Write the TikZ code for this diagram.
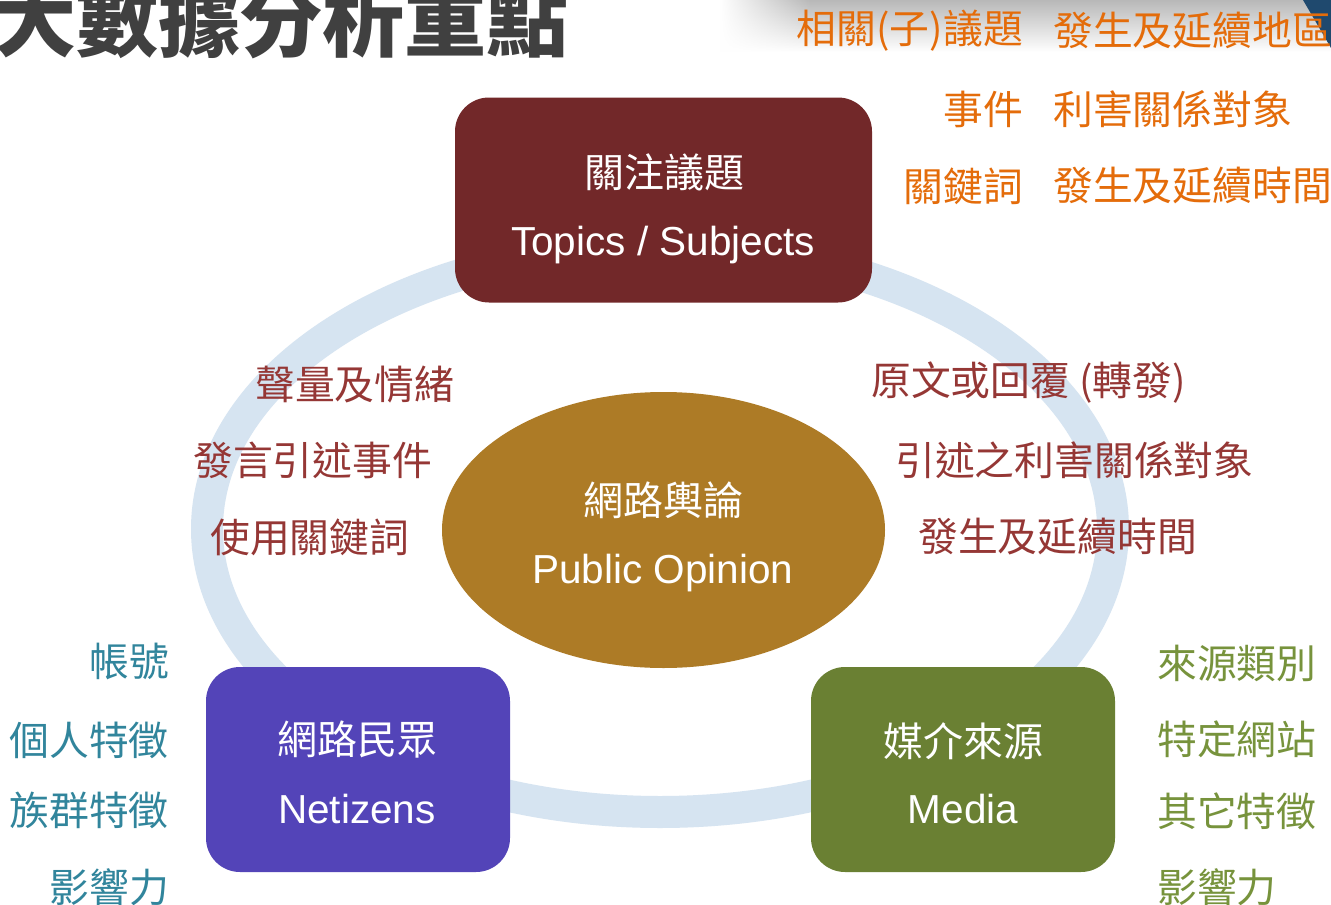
\documentclass[tikz,border=0pt]{standalone}
\usepackage{fontspec}
\setmainfont{Liberation Sans}
\newfontfamily\cjk{Noto Sans CJK TC}
\usetikzlibrary{shapes.geometric,fadings}
\definecolor{titlegray}{RGB}{64,64,64}
\definecolor{bandgray}{RGB}{184,184,184}
\definecolor{cornerblue}{RGB}{31,73,110}
\definecolor{ringblue}{RGB}{214,228,241}
\definecolor{topicred}{RGB}{114,40,41}
\definecolor{opinionochre}{RGB}{173,123,38}
\definecolor{netpurple}{RGB}{83,68,184}
\definecolor{mediagreen}{RGB}{106,128,51}
\definecolor{laborange}{RGB}{228,108,10}
\definecolor{labred}{RGB}{149,55,53}
\definecolor{labteal}{RGB}{49,133,156}
\definecolor{labgreen}{RGB}{119,147,60}
\tikzfading[name=fadeleft, left color=transparent!100, right color=transparent!0]
\begin{document}
\begin{tikzpicture}[x=1pt,y=-1pt,
  boxbase/.style={rounded corners=34pt, inner sep=0pt, minimum height=205pt},
  topicbox/.style={boxbase, fill=topicred, minimum width=417pt},
  netbox/.style={boxbase, fill=netpurple, minimum width=304pt},
  mediabox/.style={boxbase, fill=mediagreen, minimum width=304pt},
  opinionell/.style={ellipse, fill=opinionochre, inner sep=0pt, minimum width=443pt, minimum height=276pt},
  ring/.style={draw=ringblue, line width=32pt},
  zhwhite/.style={font=\cjk\fontsize{40}{41}\selectfont, text=white, inner sep=0pt},
  enwhite/.style={font=\fontsize{40.5}{41}\selectfont, text=white, inner sep=0pt, anchor=base},
  lab/.style={font=\cjk\fontsize{39.8}{41}\selectfont, inner sep=0pt},
  orangelab/.style={lab, text=laborange},
  redlab/.style={lab, text=labred, anchor=west},
  teallab/.style={lab, text=labteal, anchor=east},
  greenlab/.style={lab, text=labgreen, anchor=west}
]
\useasboundingbox (0,0) rectangle (1331,905);
\fill[white] (0,0) rectangle (1331,905);
% top grey band and corner
\shade[top color=bandgray, bottom color=white] (810,0) rectangle (1331,52);
\shade[top color=bandgray, bottom color=white, path fading=fadeleft] (720,0) rectangle (810.5,52);
\fill[cornerblue] (1303,0) -- (1331,0) -- (1331,48) -- cycle;
% title
\node[font=\cjk\bfseries\fontsize{82}{82}\selectfont, text=titlegray, anchor=base west, inner sep=0pt] (title) at (-6,50) {大數據分析重點};
% ring
\draw[ring] (660,529) ellipse [x radius=453, y radius=283];
% main nodes
\node[topicbox] (topics) at (663.5,200) {};
\node[netbox] (netizens) at (358,769.5) {};
\node[mediabox] (media) at (963,769.5) {};
\node[opinionell] (opinion) at (663.5,530) {};
% node texts
\node[zhwhite] (topicszh) at (664,172) {關注議題};
\node[enwhite] (topicsen) at (663,255) {Topics / Subjects};
\node[zhwhite] (opinionzh) at (663,500) {網路輿論};
\node[enwhite] (opinionen) at (663,583) {Public Opinion};
\node[zhwhite] (netzh) at (357,740) {網路民眾};
\node[enwhite] (neten) at (357,823) {Netizens};
\node[zhwhite] (mediazh) at (963,741) {媒介來源};
\node[enwhite] (mediaen) at (963,823) {Media};
% orange labels top right
\node[orangelab, anchor=east] (o1) at (1023,31) {相關(子)議題};
\node[orangelab, anchor=east] (o2) at (1023,109) {事件};
\node[orangelab, anchor=east] (o3) at (1023,186) {關鍵詞};
\node[orangelab, anchor=west] (o4) at (1053,31) {發生及延續地區};
\node[orangelab, anchor=west] (o5) at (1053,109) {利害關係對象};
\node[orangelab, anchor=west] (o6) at (1053,186) {發生及延續時間};
% red labels
\node[redlab] (r1) at (255,385) {聲量及情緒};
\node[redlab] (r2) at (193,460) {發言引述事件};
\node[redlab] (r3) at (210,537) {使用關鍵詞};
\node[redlab] (r4) at (871,383) {原文或回覆 (轉發)};
\node[redlab] (r5) at (895,460) {引述之利害關係對象};
\node[redlab] (r6) at (918,537) {發生及延續時間};
% teal labels
\node[teallab] (t1) at (169,661) {帳號};
\node[teallab] (t2) at (169,740) {個人特徵};
\node[teallab] (t3) at (169,810) {族群特徵};
\node[teallab] (t4) at (169,887) {影響力};
% green labels
\node[greenlab] (g1) at (1157,663) {來源類別};
\node[greenlab] (g2) at (1157,739) {特定網站};
\node[greenlab] (g3) at (1157,811) {其它特徵};
\node[greenlab] (g4) at (1157,887) {影響力};
\end{tikzpicture}
\end{document}
